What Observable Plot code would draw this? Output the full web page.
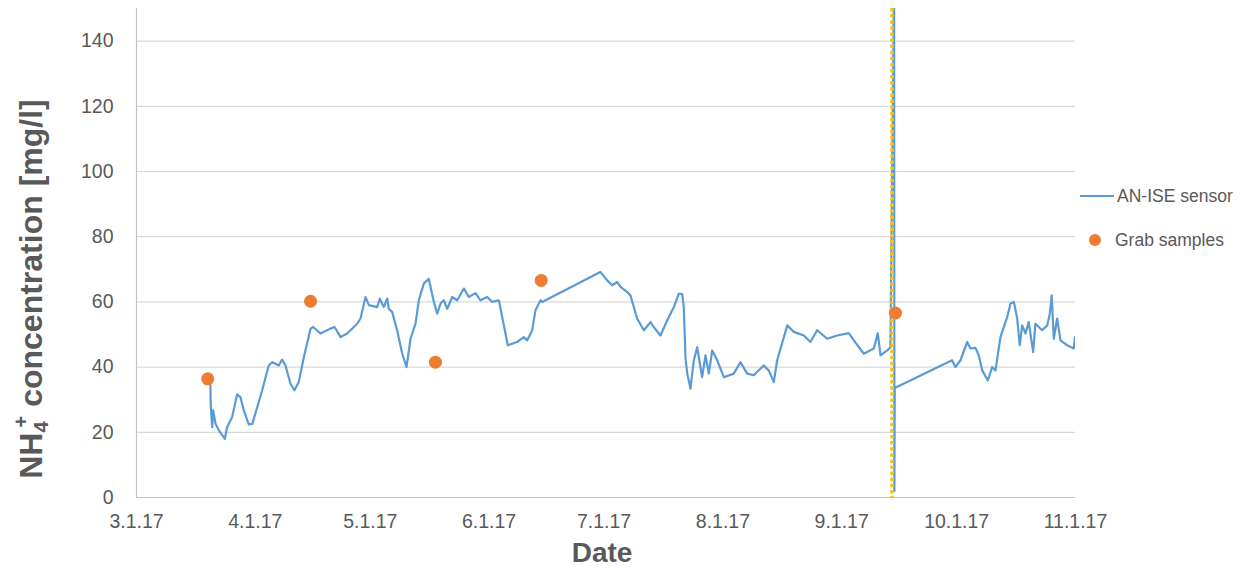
<!DOCTYPE html>
<html>
<head>
<meta charset="utf-8">
<script src="https://cdn.jsdelivr.net/npm/d3@7"></script>
<script src="https://cdn.jsdelivr.net/npm/@observablehq/plot@0.6"></script>
<style>
  html, body { margin: 0; padding: 0; background: #ffffff; }
  #chart { position: relative; width: 1240px; height: 569px; font-family: "Liberation Sans", Arial, sans-serif; }
  .legend-row { position: absolute; display: flex; align-items: center; height: 24px; font-size: 17.5px; color: #595959; white-space: nowrap; }
  .swatch-line { width: 34px; height: 0; border-top: 2px solid #5B9BD5; margin-right: 3px; }
  .swatch-dot { width: 12px; height: 12px; border-radius: 50%; background: #ED7D31; margin-right: 14px; }
</style>
</head>
<body>
<div id="chart"></div>
<script>
// AN-ISE sensor readings: [timestamp, NH4+ in mg/l]
const sensorReadings = [
  ["2017-03-20 07:00", 34.4], ["2017-03-20 09:00", 28.2], ["2017-03-20 18:00", 21.6],
  ["2017-03-21 00:00", 26.7], ["2017-03-21 15:00", 22.6], ["2017-03-22 12:00", 20.6],
  ["2017-03-24 01:00", 18.0], ["2017-03-24 16:00", 21.6], ["2017-03-25 23:00", 24.7],
  ["2017-03-27 06:00", 31.6], ["2017-03-28 03:00", 30.8], ["2017-03-29 00:00", 26.7],
  ["2017-03-30 07:00", 22.4], ["2017-03-31 05:00", 22.6], ["2017-04-01 12:00", 27.7],
  ["2017-04-02 19:00", 32.9], ["2017-04-04 12:00", 40.5], ["2017-04-05 10:00", 41.5],
  ["2017-04-07 03:00", 40.5], ["2017-04-08 00:00", 42.3], ["2017-04-08 21:00", 40.5],
  ["2017-04-10 04:00", 34.9], ["2017-04-11 05:00", 32.9], ["2017-04-12 08:00", 35.4],
  ["2017-04-13 16:00", 43.1], ["2017-04-15 10:00", 51.8], ["2017-04-16 02:00", 52.3],
  ["2017-04-18 00:00", 50.3], ["2017-04-20 15:00", 51.8], ["2017-04-21 16:00", 52.3],
  ["2017-04-23 06:00", 49.2], ["2017-04-24 23:00", 50.3], ["2017-04-27 14:00", 53.3],
  ["2017-04-28 11:00", 54.9], ["2017-04-29 18:00", 61.5], ["2017-04-30 15:00", 59.0],
  ["2017-05-02 19:00", 58.4], ["2017-05-03 12:00", 61.0], ["2017-05-04 12:00", 58.4],
  ["2017-05-05 10:00", 61.0], ["2017-05-05 20:00", 57.9], ["2017-05-06 17:00", 56.9],
  ["2017-05-08 00:00", 51.3], ["2017-05-09 08:00", 44.1], ["2017-05-10 11:00", 40.0],
  ["2017-05-11 12:00", 48.7], ["2017-05-12 19:00", 53.3], ["2017-05-13 16:00", 60.5],
  ["2017-05-14 23:00", 65.6], ["2017-05-16 06:00", 67.1], ["2017-05-17 14:00", 60.0],
  ["2017-05-18 11:00", 56.4], ["2017-05-19 08:00", 59.5], ["2017-05-20 04:00", 60.5],
  ["2017-05-21 02:00", 57.9], ["2017-05-22 09:00", 61.5], ["2017-05-23 16:00", 60.5],
  ["2017-05-25 10:00", 64.1], ["2017-05-26 17:00", 61.5], ["2017-05-28 11:00", 62.7],
  ["2017-05-29 18:00", 60.5], ["2017-05-31 12:00", 61.5], ["2017-06-01 19:00", 60.0],
  ["2017-06-03 13:00", 60.5], ["2017-06-05 21:00", 46.7], ["2017-06-08 08:00", 47.7],
  ["2017-06-10 01:00", 49.2], ["2017-06-10 23:00", 48.2], ["2017-06-12 06:00", 51.3],
  ["2017-06-13 02:00", 57.4], ["2017-06-14 10:00", 60.5], ["2017-06-14 20:00", 60.0],
  ["2017-06-30 01:00", 69.2], ["2017-07-01 19:00", 66.6], ["2017-07-03 03:00", 65.1],
  ["2017-07-04 10:00", 66.1], ["2017-07-05 07:00", 64.6], ["2017-07-07 01:00", 63.0],
  ["2017-07-07 21:00", 62.0], ["2017-07-09 15:00", 54.9], ["2017-07-11 09:00", 51.3],
  ["2017-07-13 03:00", 53.8], ["2017-07-13 23:00", 52.3], ["2017-07-15 17:00", 49.7],
  ["2017-07-17 11:00", 54.3], ["2017-07-19 05:00", 58.4], ["2017-07-20 12:00", 62.5],
  ["2017-07-21 09:00", 62.5], ["2017-07-21 19:00", 58.4], ["2017-07-22 06:00", 42.6],
  ["2017-07-22 17:00", 38.0], ["2017-07-23 13:00", 33.4], ["2017-07-24 10:00", 42.1],
  ["2017-07-25 07:00", 46.1], ["2017-07-26 14:00", 36.9], ["2017-07-27 11:00", 43.6],
  ["2017-07-28 08:00", 38.0], ["2017-07-29 05:00", 45.1], ["2017-07-30 12:00", 42.1],
  ["2017-08-01 06:00", 36.9], ["2017-08-03 20:00", 38.0], ["2017-08-05 14:00", 41.5],
  ["2017-08-07 08:00", 38.0], ["2017-08-09 01:00", 37.5], ["2017-08-11 16:00", 40.5],
  ["2017-08-12 23:00", 39.0], ["2017-08-14 07:00", 35.4], ["2017-08-15 04:00", 42.1],
  ["2017-08-17 19:00", 52.8], ["2017-08-19 12:00", 50.8], ["2017-08-22 03:00", 49.7],
  ["2017-08-23 20:00", 47.7], ["2017-08-25 14:00", 51.3], ["2017-08-28 05:00", 48.7],
  ["2017-08-30 20:00", 49.7], ["2017-09-02 20:00", 50.4], ["2017-09-04 04:00", 48.2],
  ["2017-09-06 18:00", 44.1], ["2017-09-09 09:00", 45.7], ["2017-09-10 10:00", 50.4],
  ["2017-09-11 03:00", 43.6], ["2017-09-12 21:00", 45.1], ["2017-09-13 17:00", 46.1],
  ["2017-09-14 16:00", 160.0], ["2017-09-14 18:00", 2.0], ["2017-09-14 20:00", 33.6],
  ["2017-09-29 19:00", 42.1], ["2017-09-30 16:00", 40.0], ["2017-10-02 00:00", 42.1],
  ["2017-10-03 18:00", 47.7], ["2017-10-04 14:00", 45.7], ["2017-10-05 22:00", 45.9],
  ["2017-10-06 18:00", 43.6], ["2017-10-07 16:00", 39.0], ["2017-10-09 03:00", 35.9],
  ["2017-10-10 06:00", 40.0], ["2017-10-11 03:00", 39.0], ["2017-10-12 10:00", 49.2],
  ["2017-10-14 04:00", 55.3], ["2017-10-15 01:00", 59.5], ["2017-10-15 22:00", 60.0],
  ["2017-10-16 19:00", 54.9], ["2017-10-17 11:00", 46.7], ["2017-10-18 02:00", 52.8],
  ["2017-10-18 23:00", 50.3], ["2017-10-19 19:00", 53.8], ["2017-10-20 23:00", 44.6],
  ["2017-10-21 13:00", 53.3], ["2017-10-23 07:00", 51.3], ["2017-10-24 15:00", 52.8],
  ["2017-10-25 07:00", 56.4], ["2017-10-25 19:00", 62.0], ["2017-10-26 08:00", 48.7],
  ["2017-10-27 05:00", 54.9], ["2017-10-28 02:00", 48.2], ["2017-10-29 20:00", 46.7],
  ["2017-10-31 13:00", 45.7], ["2017-10-31 20:00", 49.2], ["2017-11-01 00:00", 46.0]
];

// Laboratory grab samples
const grabDates = ["2017-03-19 14:00", "2017-04-15 10:00", "2017-05-18 00:00", "2017-06-14 14:00", "2017-09-15 01:00"];
const grabValues = [36.4, 60.2, 41.5, 66.6, 56.6];

// Sensor maintenance event marker
const eventDate = "2017-09-14 03:00";

// Axes
const xStart = "2017-03-01 00:00";
const xEnd = "2017-11-01 00:00";
const yTicks = [0, 20, 40, 60, 80, 100, 120, 140];
const yMax = 150;

const parse = d3.utcParse("%Y-%m-%d %H:%M");
const sensor = sensorReadings.map(([t, v]) => ({date: parse(t), value: v}));
const grabs = grabDates.map((t, i) => ({date: parse(t), value: grabValues[i]}));
const x0 = parse(xStart), x1 = parse(xEnd);
const monthTicks = d3.utcMonth.range(x0, d3.utcDay.offset(x1, 1));

const BLUE = "#5B9BD5", ORANGE = "#ED7D31", GOLD = "#FFC000", TEXT = "#595959";

const plot = Plot.plot({
  width: 1240,
  height: 569,
  marginLeft: 136,
  marginRight: 165,
  marginTop: 8,
  marginBottom: 72,
  style: {fontFamily: "'Liberation Sans', Arial, sans-serif", fontSize: "19.5px", color: TEXT, background: "#ffffff", overflow: "visible"},
  x: {type: "utc", domain: [x0, x1], ticks: monthTicks, tickFormat: d3.utcFormat("%-m.%-d.%y"), tickSize: 0, tickPadding: 17, label: null},
  y: {domain: [0, yMax], ticks: yTicks, tickSize: 0, tickPadding: 23, label: null},
  marks: [
    Plot.gridY(yTicks.filter(d => d > 0), {stroke: "#d9d9d9", strokeOpacity: 1, strokeWidth: 1.2}),
    Plot.ruleY([0], {stroke: "#c4c4c4", strokeWidth: 1.2}),
    Plot.ruleX([x0], {stroke: "#c4c4c4", strokeWidth: 1.2}),
    Plot.line(sensor, {x: "date", y: "value", stroke: BLUE, strokeWidth: 2.2, clip: true}),
    Plot.ruleX([parse(eventDate)], {stroke: GOLD, strokeWidth: 3.5, strokeDasharray: "3.5 2.6"}),
    Plot.dot(grabs, {x: "date", y: "value", r: 6.5, fill: ORANGE, stroke: "none"}),
    Plot.text(["Date"], {frameAnchor: "bottom", dx: -4, dy: 64, fontSize: 28, fontWeight: "bold", fill: TEXT})
  ]
});

const chart = document.getElementById("chart");
chart.appendChild(plot);

// Y-axis title with NH4+ sub/superscripts
const title = d3.select(plot).append("text")
  .attr("transform", "translate(42,289) rotate(-90)")
  .attr("text-anchor", "middle")
  .attr("fill", TEXT)
  .attr("font-weight", "bold")
  .attr("font-size", 32)
  .attr("font-family", "'Liberation Sans', Arial, sans-serif");
title.append("tspan").text("NH");
title.append("tspan").attr("font-size", 20).attr("dy", 6).text("4");
title.append("tspan").attr("font-size", 20).attr("dx", -6).attr("dy", -20).text("+");
title.append("tspan").attr("dy", 14).text(" concentration [mg/l]");

// Legend
const legend = [
  {label: "AN-ISE sensor", kind: "line", left: 1080, top: 184},
  {label: "Grab samples", kind: "dot", left: 1089, top: 228}
];
for (const item of legend) {
  const row = document.createElement("div");
  row.className = "legend-row";
  row.style.left = item.left + "px";
  row.style.top = item.top + "px";
  const sw = document.createElement("span");
  sw.className = item.kind === "line" ? "swatch-line" : "swatch-dot";
  const tx = document.createElement("span");
  tx.textContent = item.label;
  row.appendChild(sw);
  row.appendChild(tx);
  chart.appendChild(row);
}
</script>
</body>
</html>
